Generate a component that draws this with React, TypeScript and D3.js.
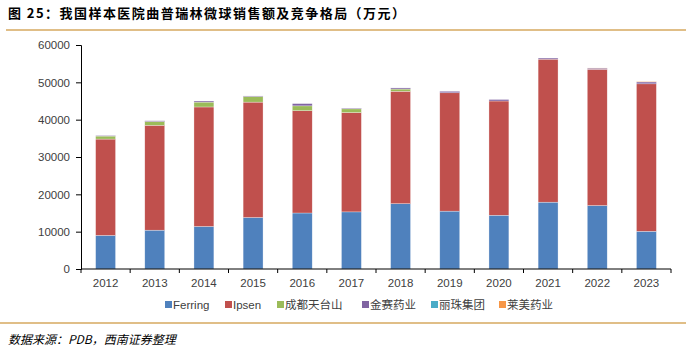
import { useEffect, useRef } from "react";
import * as d3 from "d3";

const years = ["2012", "2013", "2014", "2015", "2016", "2017", "2018", "2019", "2020", "2021", "2022", "2023"];
const seriesNames = ["Ferring", "Ipsen", "成都天台山", "金赛药业", "丽珠集团", "莱美药业"];
const seriesColors = ["#4F81BD", "#C0504D", "#9BBB59", "#8064A2", "#4BACC6", "#F79646"];

const ferring = [9000, 10400, 11400, 13800, 15000, 15300, 17500, 15500, 14400, 17900, 17000, 10100];
const ipsen = [25800, 28100, 32000, 30900, 27400, 26600, 30100, 31700, 30600, 38300, 36500, 39500];
const tiantaishan = [800, 1000, 1300, 1500, 1300, 1000, 600, 0, 0, 0, 0, 0];
const jinsai = [150, 200, 300, 150, 600, 200, 300, 400, 400, 300, 300, 500];
const lizhu = [0, 0, 0, 0, 0, 0, 0, 0, 0, 0, 0, 0];
const laimei = [0, 0, 0, 0, 0, 0, 0, 0, 0, 0, 50, 120];

const yTicks = [0, 10000, 20000, 30000, 40000, 50000, 60000];

const W = 686;
const H = 350;

export default function App() {
  const svgRef = useRef<SVGSVGElement>(null);

  useEffect(() => {
    if (!svgRef.current) return;
    const svg = d3.select(svgRef.current);
    svg.selectAll("*").remove();

    const cols = [ferring, ipsen, tiantaishan, jinsai, lizhu, laimei];
    const rows = years.map((y, i) => {
      const r: Record<string, number | string> = { year: y };
      seriesNames.forEach((s, k) => (r[s] = cols[k][i]));
      return r;
    });
    const stacked = d3.stack<any>().keys(seriesNames)(rows);

    const left = 81;
    const right = 671;
    const top = 45;
    const bottom = 269;

    const x = d3.scaleBand().domain(years).range([left, right]).paddingInner(0.595).paddingOuter(0.2975);
    const y = d3.scaleLinear().domain([0, 60000]).range([bottom, top]);
    const font = "'Liberation Sans', Arial, sans-serif";

    // title
    svg
      .append("text")
      .attr("x", 8)
      .attr("y", 18)
      .attr("font-family", "'Noto Sans CJK SC', sans-serif")
      .attr("font-weight", "bold")
      .attr("font-size", 13)
      .attr("fill", "#000")
      .attr("textLength", 397)
      .attr("lengthAdjust", "spacing")
      .text("图 25：我国样本医院曲普瑞林微球销售额及竞争格局（万元）");

    svg.append("line").attr("x1", 6).attr("x2", 686).attr("y1", 30).attr("y2", 30).attr("stroke", "#D6A85F").attr("stroke-width", 1.5);
    svg.append("line").attr("x1", 0).attr("x2", 686).attr("y1", 323).attr("y2", 323).attr("stroke", "#D6A85F").attr("stroke-width", 1.5);

    // bars
    svg
      .append("g")
      .selectAll("g")
      .data(stacked)
      .join("g")
      .attr("fill", (_, i) => seriesColors[i])
      .selectAll("rect")
      .data((d) => d)
      .join("rect")
      .attr("x", (d) => x(d.data.year as string)!)
      .attr("width", x.bandwidth())
      .attr("y", (d) => y(d[1]))
      .attr("height", (d) => y(d[0]) - y(d[1]))
      .attr("stroke", "#fff")
      .attr("stroke-opacity", 0.6)
      .attr("stroke-width", (d) => (d[1] - d[0] > 0 ? 0.5 : 0));

    // y axis
    const ya = svg
      .append("g")
      .attr("transform", `translate(${left},0)`)
      .call(d3.axisLeft(y).tickValues(yTicks).tickSize(5).tickPadding(6).tickFormat(d3.format("d")));
    ya.select(".domain").attr("stroke", "#000");
    ya.selectAll(".tick line").attr("stroke", "#000");
    ya.selectAll("text").attr("font-family", font).attr("font-size", 11.5).attr("fill", "#404040");

    // x axis
    const xa = svg
      .append("g")
      .attr("transform", `translate(0,${bottom})`)
      .call(d3.axisBottom(x).tickSize(0).tickPadding(10));
    xa.select(".domain").attr("stroke", "#000").attr("d", `M${left},0H${right}`);
    xa.selectAll("text").attr("font-family", font).attr("font-size", 11.5).attr("fill", "#404040");
    const step = x.step();
    svg
      .append("g")
      .selectAll("line")
      .data(d3.range(years.length + 1))
      .join("line")
      .attr("x1", (i) => left + i * step)
      .attr("x2", (i) => left + i * step)
      .attr("y1", bottom)
      .attr("y2", bottom + 4)
      .attr("stroke", "#000");

    // legend
    const legendX = [165, 225, 277, 362, 431, 499];
    const lg = svg.append("g").attr("transform", "translate(0,305)");
    seriesNames.forEach((s, i) => {
      lg.append("rect").attr("x", legendX[i]).attr("y", -4).attr("width", 7).attr("height", 7).attr("fill", seriesColors[i]);
      lg
        .append("text")
        .attr("x", legendX[i] + 8)
        .attr("y", 4)
        .attr("font-family", i < 2 ? font : "'Noto Sans CJK SC', sans-serif")
        .attr("font-size", 11.5)
        .attr("fill", "#404040")
        .text(s);
    });

    // footer
    svg
      .append("text")
      .attr("x", 8)
      .attr("y", 344)
      .attr("font-family", "'Noto Sans CJK SC', sans-serif")
      .attr("font-style", "italic")
      .attr("font-size", 12)
      .attr("fill", "#000")
      .text("数据来源：PDB，西南证券整理");
  }, []);

  return (
    <svg
      ref={svgRef}
      width={W}
      height={H}
      style={{ position: "absolute", left: 0, top: 0, background: "#fff" }}
    />
  );
}
